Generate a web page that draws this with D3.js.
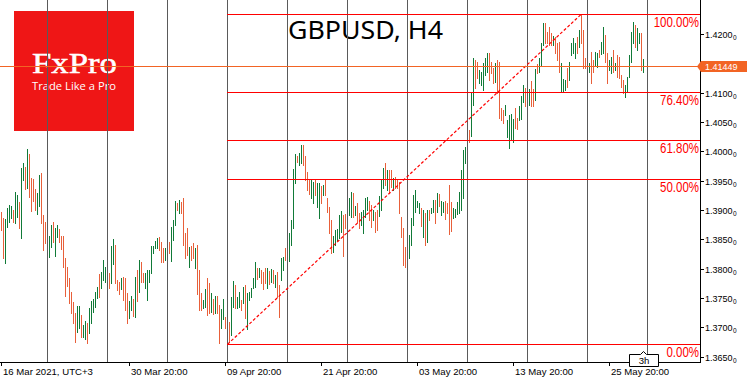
<!DOCTYPE html>
<html>
<head>
<meta charset="utf-8">
<script src="https://cdn.jsdelivr.net/npm/d3@7"></script>
<style>
    html, body { margin: 0; padding: 0; background: #fff; }
    svg { display: block; }
</style>
</head>
<body>
<script>
// GBPUSD H4 bar chart with a fibo retracement, MT4 style
(function(){

    //bar highs / lows, one per H4 bar from 16 Mar 04:00
    var barHigh = [
        1.3897,1.3886,1.3885,1.3903,1.3908,1.3907,1.3900,1.3931,1.3926,1.3914,
        1.3972,1.3980,1.3973,1.4004,1.3995,1.3955,1.3953,1.3936,1.3929,1.3960,
        1.3963,1.3891,1.3880,1.3869,1.3856,1.3874,1.3880,1.3869,1.3874,1.3868,
        1.3856,1.3856,1.3818,1.3803,1.3784,1.3760,1.3743,1.3724,1.3736,1.3736,
        1.3721,1.3704,1.3711,1.3707,1.3733,1.3745,1.3748,1.3760,1.3769,1.3791,
        1.3794,1.3815,1.3803,1.3801,1.3793,1.3839,1.3851,1.3840,1.3781,1.3777,
        1.3784,1.3786,1.3784,1.3759,1.3745,1.3753,1.3748,1.3786,1.3798,1.3815,
        1.3811,1.3793,1.3793,1.3798,1.3798,1.3839,1.3839,1.3847,1.3852,1.3854,
        1.3845,1.3835,1.3835,1.3840,1.3845,1.3871,1.3883,1.3915,1.3912,1.3917,
        1.3914,1.3920,1.3861,1.3869,1.3837,1.3839,1.3844,1.3835,1.3840,1.3798,
        1.3759,1.3747,1.3765,1.3784,1.3775,1.3759,1.3748,1.3753,1.3753,1.3738,
        1.3731,1.3748,1.3718,1.3709,1.3709,1.3752,1.3779,1.3772,1.3752,1.3760,
        1.3747,1.3769,1.3772,1.3759,1.3760,1.3767,1.3784,1.3811,1.3801,1.3801,
        1.3798,1.3794,1.3801,1.3801,1.3796,1.3799,1.3798,1.3789,1.3794,1.3772,
        1.3818,1.3820,1.3835,1.3852,1.3861,1.3883,1.3970,1.3995,1.3992,1.3997,
        1.4011,1.4011,1.3992,1.3965,1.3951,1.3951,1.3948,1.3951,1.3946,1.3946,
        1.3941,1.3943,1.3951,1.3920,1.3905,1.3883,1.3856,1.3866,1.3868,1.3891,
        1.3898,1.3891,1.3893,1.3908,1.3920,1.3931,1.3929,1.3907,1.3912,1.3895,
        1.3897,1.3900,1.3920,1.3922,1.3915,1.3908,1.3900,1.3897,1.3900,1.3924,
        1.3951,1.3972,1.3980,1.3968,1.3968,1.3968,1.3955,1.3956,1.3951,1.3948,
        1.3888,1.3869,1.3837,1.3837,1.3857,1.3886,1.3926,1.3934,1.3915,1.3912,
        1.3903,1.3900,1.3895,1.3900,1.3900,1.3903,1.3917,1.3917,1.3929,1.3927,
        1.3915,1.3914,1.3915,1.3912,1.3943,1.3914,1.3903,1.3902,1.3914,1.3931,
        1.3968,1.4002,1.4007,1.4028,1.4036,1.4099,1.4159,1.4156,1.4152,1.4139,
        1.4135,1.4151,1.4159,1.4168,1.4168,1.4152,1.4142,1.4151,1.4156,1.4152,
        1.4074,1.4070,1.4079,1.4053,1.4062,1.4064,1.4055,1.4074,1.4057,1.4077,
        1.4094,1.4113,1.4108,1.4108,1.4106,1.4120,1.4106,1.4140,1.4149,1.4159,
        1.4185,1.4219,1.4219,1.4203,1.4212,1.4202,1.4196,1.4195,1.4185,1.4186,
        1.4151,1.4123,1.4122,1.4142,1.4152,1.4185,1.4193,1.4185,1.4195,1.4207,
        1.4234,1.4207,1.4159,1.4156,1.4151,1.4169,1.4156,1.4169,1.4168,1.4173,
        1.4186,1.4212,1.4198,1.4168,1.4156,1.4161,1.4173,1.4151,1.4164,1.4161,
        1.4130,1.4122,1.4113,1.4127,1.4164,1.4203,1.4220,1.4215,1.4210,1.4202,
        1.4202,1.4157
    ];

    var barLow = [
        1.3866,1.3818,1.3810,1.3871,1.3880,1.3886,1.3880,1.3878,1.3888,1.3869,
        1.3852,1.3951,1.3936,1.3937,1.3922,1.3898,1.3915,1.3900,1.3893,1.3907,
        1.3878,1.3832,1.3844,1.3832,1.3820,1.3837,1.3845,1.3822,1.3854,1.3845,
        1.3833,1.3803,1.3753,1.3770,1.3741,1.3724,1.3707,1.3675,1.3692,1.3699,
        1.3684,1.3684,1.3680,1.3673,1.3690,1.3707,1.3726,1.3735,1.3750,1.3752,
        1.3767,1.3781,1.3777,1.3772,1.3767,1.3775,1.3808,1.3775,1.3764,1.3757,
        1.3765,1.3747,1.3729,1.3707,1.3716,1.3729,1.3719,1.3718,1.3745,1.3760,
        1.3777,1.3777,1.3767,1.3747,1.3777,1.3793,1.3827,1.3835,1.3835,1.3832,
        1.3811,1.3811,1.3815,1.3818,1.3827,1.3813,1.3849,1.3874,1.3900,1.3895,
        1.3895,1.3840,1.3818,1.3823,1.3803,1.3815,1.3818,1.3801,1.3757,1.3729,
        1.3729,1.3733,1.3735,1.3721,1.3724,1.3726,1.3723,1.3724,1.3724,1.3673,
        1.3699,1.3714,1.3699,1.3671,1.3675,1.3687,1.3735,1.3733,1.3733,1.3735,
        1.3729,1.3741,1.3716,1.3697,1.3747,1.3752,1.3767,1.3769,1.3782,1.3786,
        1.3775,1.3765,1.3775,1.3767,1.3774,1.3777,1.3775,1.3769,1.3752,1.3718,
        1.3781,1.3798,1.3815,1.3818,1.3813,1.3840,1.3869,1.3946,1.3982,1.3977,
        1.3980,1.3977,1.3951,1.3934,1.3927,1.3920,1.3912,1.3926,1.3905,1.3886,
        1.3912,1.3926,1.3926,1.3897,1.3861,1.3827,1.3828,1.3840,1.3849,1.3852,
        1.3862,1.3822,1.3869,1.3880,1.3891,1.3888,1.3888,1.3891,1.3880,1.3869,
        1.3874,1.3861,1.3888,1.3900,1.3883,1.3871,1.3883,1.3862,1.3866,1.3890,
        1.3900,1.3937,1.3943,1.3934,1.3931,1.3939,1.3934,1.3937,1.3937,1.3895,
        1.3854,1.3806,1.3803,1.3803,1.3818,1.3840,1.3874,1.3897,1.3905,1.3895,
        1.3873,1.3854,1.3840,1.3845,1.3883,1.3895,1.3897,1.3878,1.3897,1.3907,
        1.3891,1.3897,1.3885,1.3895,1.3859,1.3864,1.3886,1.3888,1.3893,1.3895,
        1.3900,1.3920,1.3980,1.4002,1.4016,1.4026,1.4079,1.4108,1.4125,1.4116,
        1.4113,1.4104,1.4130,1.4135,1.4122,1.4134,1.4116,1.4118,1.4099,1.4057,
        1.4053,1.4048,1.4062,1.4024,1.4006,1.4019,1.4016,1.4040,1.4038,1.4053,
        1.4055,1.4084,1.4077,1.4087,1.4079,1.4077,1.4077,1.4087,1.4134,1.4135,
        1.4147,1.4181,1.4185,1.4185,1.4181,1.4181,1.4181,1.4168,1.4156,1.4135,
        1.4101,1.4103,1.4104,1.4110,1.4122,1.4164,1.4168,1.4159,1.4168,1.4178,
        1.4185,1.4142,1.4142,1.4139,1.4135,1.4116,1.4135,1.4145,1.4144,1.4161,
        1.4166,1.4168,1.4152,1.4116,1.4139,1.4134,1.4135,1.4139,1.4127,1.4125,
        1.4110,1.4099,1.4093,1.4101,1.4127,1.4152,1.4185,1.4178,1.4173,1.4185,
        1.4139,1.4135
    ];

    //g = bull bar, r = bear bar
    var barDir = ("rrggggrggr" + "ggrgrrrrgg" + "rrrrggrggr" + "rrrrrrrrgg" + "rggrgggggr" +
        "ggggrggrrr" + "grrrggrgrg" + "rrgggggggr" + "rrggrgggrg" + "rrrrgrrgrr" +
        "rggrrgrgrr" + "ggrrrggrgg" + "rgrgggggrg" + "rrrgrgrgrr" + "ggrgggggrg" +
        "grrrrggrgg" + "rgrrrrgggg" + "grrgggrgrr" + "ggggrrgrrg" + "ggrgrrgrrr" +
        "rrrggggggg" + "rgrgrggrgr" + "ggrrrrgggg" + "ggggrggrrg" + "ggggrrrgrr" +
        "rrgggggrrg" + "ggrggrrgrg" + "ggrrrrgrrr" + "gggrggggrg" + "rrrrgrrggr" +
        "ggrrggrgrr" + "rrgggggrgg" + "rg").split("");

    var timeTickTimes = ["2021-03-16 04:00", "2021-03-30 20:00", "2021-04-09 20:00", "2021-04-21 20:00",
        "2021-05-03 20:00", "2021-05-13 20:00", "2021-05-25 20:00"];
    var timeTickLabels = ["16 Mar 2021, UTC+3", "30 Mar 20:00", "09 Apr 20:00", "21 Apr 20:00",
        "03 May 20:00", "13 May 20:00", "25 May 20:00"];

    var priceTicks = [1.3650, 1.3700, 1.3750, 1.3800, 1.3850, 1.3900, 1.3950,
        1.4000, 1.4050, 1.4100, 1.4150, 1.4200];

    var fibRatios = [0, 0.5, 0.618, 0.764, 1];
    var fibLabels = ["0.00%", "50.00%", "61.80%", "76.40%", "100.00%"];

    var lastPrice = 1.41449;
    var chartTitle = "GBPUSD, H4";
    var barTimeLeft = "3h";

    //frame
    var width = 747,
        height = 379,
        plotRight = 701,
        plotBottom = 362,
        slots = 350;

    var upColour = "#117a38",
        downColour = "#e8603a",
        gridColour = "#5a5a5a",
        fibColour = "#ff0000",
        priceColour = "#f26424";

    var xScale = d3.scaleLinear()
        .domain([-0.5, slots - 0.5])
        .range([0, slots * 2]);

    var yScale = d3.scaleLinear()
        .domain([1.36409, 1.42579])
        .range([plotBottom, 0]);

    //H4 bar times, weekdays only
    var fmt = d3.timeFormat("%Y-%m-%d %H:%M");
    var barTimes = [];
    var t = new Date(2021, 2, 16, 4);
    while (barTimes.length < slots){
        if (t.getDay() !== 0 && t.getDay() !== 6) barTimes.push(new Date(t));
        t = d3.timeHour.offset(t, 4);
    }
    var timeKeys = barTimes.map(fmt);
    var gridIdx = [];
    barTimes.forEach(function(d, i){
        if (d.getDay() === 1 && d.getHours() === 0 && xScale(i) < plotRight) gridIdx.push(i);
    });

    var svg = d3.select("body").append("svg")
        .attr("width", width)
        .attr("height", height)
        .style("font-family", "'Liberation Sans', Arial, sans-serif");

    svg.append("rect").attr("width", width).attr("height", height).attr("fill", "#fff");

    //logo
    var logo = svg.append("g");
    logo.append("rect")
        .attr("x", 14).attr("y", 11)
        .attr("width", 120).attr("height", 120)
        .attr("fill", "#ef1616");
    logo.append("text")
        .attr("x", 32).attr("y", 73)
        .attr("font-family", "'Liberation Serif', 'DejaVu Serif', serif")
        .attr("font-size", 30)
        .attr("stroke", "#fff")
        .attr("stroke-width", 0.5)
        .attr("textLength", 85)
        .attr("lengthAdjust", "spacingAndGlyphs")
        .attr("fill", "#fff")
        .text("FxPro");
    logo.append("text")
        .attr("x", 32).attr("y", 89.5)
        .attr("font-family", "'Open Sans', sans-serif")
        .attr("font-size", 10)
        .attr("textLength", 84)
        .attr("lengthAdjust", "spacingAndGlyphs")
        .attr("fill", "#fff")
        .text("Trade Like a Pro");

    //title
    svg.append("text")
        .attr("x", 288).attr("y", 39)
        .attr("font-family", "'Noto Sans', sans-serif")
        .attr("font-size", 26)
        .attr("textLength", 155)
        .attr("lengthAdjust", "spacingAndGlyphs")
        .attr("fill", "#000")
        .text(chartTitle);

    //bars
    svg.append("g")
        .attr("shape-rendering", "crispEdges")
        .selectAll("rect")
        .data(barHigh)
        .join("rect")
        .attr("x", function(d, i){ return xScale(i); })
        .attr("y", function(d){ return Math.round(yScale(d)); })
        .attr("width", 1)
        .attr("height", function(d, i){
            return Math.max(1, Math.round(yScale(barLow[i])) - Math.round(yScale(d)) + 1);
        })
        .attr("fill", function(d, i){ return barDir[i] === "g" ? upColour : downColour; });

    //week grid
    svg.append("g")
        .selectAll("line")
        .data(gridIdx)
        .join("line")
        .attr("x1", function(d){ return xScale(d) + 0.5; })
        .attr("x2", function(d){ return xScale(d) + 0.5; })
        .attr("y1", 0)
        .attr("y2", plotBottom)
        .attr("stroke", gridColour)
        .attr("stroke-width", 1);

    //fibo retracement
    var iLow = d3.minIndex(barLow),
        iHigh = d3.maxIndex(barHigh),
        fibLow = barLow[iLow],
        fibHigh = barHigh[iHigh];

    var fib = svg.append("g");
    fib.selectAll("line")
        .data(fibRatios)
        .join("line")
        .attr("x1", xScale(iLow))
        .attr("x2", plotRight)
        .attr("y1", function(d){ return Math.round(yScale(fibLow + d * (fibHigh - fibLow))) + 0.5; })
        .attr("y2", function(d){ return Math.round(yScale(fibLow + d * (fibHigh - fibLow))) + 0.5; })
        .attr("stroke", fibColour)
        .attr("stroke-width", 1);

    fib.selectAll("text")
        .data(fibRatios)
        .join("text")
        .attr("x", plotRight - 2)
        .attr("y", function(d){ return Math.round(yScale(fibLow + d * (fibHigh - fibLow))) + 12.5; })
        .attr("text-anchor", "end")
        .attr("font-size", 14)
        .attr("fill", fibColour)
        .text(function(d, i){ return fibLabels[i]; })
        .each(function(){
            var w = this.getComputedTextLength();
            d3.select(this).attr("textLength", w * 0.82).attr("lengthAdjust", "spacingAndGlyphs");
        });

    fib.append("line")
        .attr("x1", xScale(iLow) + 0.5)
        .attr("y1", yScale(fibLow))
        .attr("x2", xScale(iHigh) + 0.5)
        .attr("y2", yScale(fibHigh))
        .attr("stroke", fibColour)
        .attr("stroke-width", 1.2)
        .attr("stroke-dasharray", "3,2");

    //last price line
    var yLast = Math.round(yScale(lastPrice)) + 0.5;
    svg.append("line")
        .attr("x1", 0).attr("x2", plotRight)
        .attr("y1", yLast).attr("y2", yLast)
        .attr("stroke", priceColour)
        .attr("stroke-width", 1);

    //axes frame
    svg.append("line")
        .attr("x1", plotRight - 0.5).attr("x2", plotRight - 0.5)
        .attr("y1", 0).attr("y2", plotBottom + 1)
        .attr("stroke", "#000");
    svg.append("line")
        .attr("x1", 0).attr("x2", plotRight)
        .attr("y1", plotBottom + 0.5).attr("y2", plotBottom + 0.5)
        .attr("stroke", "#000");

    //price axis, labels hidden where the last price tag sits
    var shownTicks = priceTicks.filter(function(d){
        return Math.abs(yScale(d) - yScale(lastPrice)) > 9;
    });
    var pAxis = svg.append("g").selectAll("g")
        .data(shownTicks)
        .join("g")
        .attr("transform", function(d){ return "translate(0," + Math.round(yScale(d)) + ")"; });
    pAxis.append("line")
        .attr("x1", plotRight).attr("x2", plotRight + 3)
        .attr("y1", 0.5).attr("y2", 0.5)
        .attr("stroke", "#000");
    var pText = pAxis.append("text")
        .attr("x", plotRight + 4)
        .attr("y", 4)
        .attr("font-size", 9)
        .attr("fill", "#000");
    pText.append("tspan").text(function(d){ return d3.format(".4f")(d); });
    pText.append("tspan").attr("font-size", 6.5).attr("dy", 1.5).attr("dx", 0.5).text("0");

    //last price tag
    svg.append("path")
        .attr("d", "M697," + yLast + "L701," + (yLast - 5.5) + "H747V" + (yLast + 5.5) + "H701Z")
        .attr("fill", priceColour);
    svg.append("text")
        .attr("x", 705).attr("y", yLast + 3.5)
        .attr("font-size", 9)
        .attr("fill", "#fff")
        .text(d3.format(".5f")(lastPrice));

    //time axis
    var tIdx = timeTickTimes.map(function(k){ return timeKeys.indexOf(k); });
    var tAxis = svg.append("g").selectAll("g")
        .data(tIdx)
        .join("g")
        .attr("transform", function(d){ return "translate(" + xScale(d) + ",0)"; });
    tAxis.append("line")
        .attr("x1", 0.5).attr("x2", 0.5)
        .attr("y1", plotBottom).attr("y2", plotBottom + 4)
        .attr("stroke", "#000");
    tAxis.append("text")
        .attr("x", 2)
        .attr("y", 375)
        .attr("font-size", 9.6)
        .attr("fill", "#000")
        .text(function(d, i){ return timeTickLabels[i]; });

    //time left in the current bar
    var xl = xScale(barHigh.length - 1) + 0.5;
    svg.append("path")
        .attr("d", "M629.5,354.5H" + (xl - 3) + "L" + xl + ",351.5L" + (xl + 3) + ",354.5H658.5V366.5H629.5Z")
        .attr("fill", "#fff")
        .attr("stroke", "#000");
    svg.append("text")
        .attr("x", 644).attr("y", 364)
        .attr("text-anchor", "middle")
        .attr("font-size", 9.6)
        .attr("fill", "#000")
        .text(barTimeLeft);

})();
</script>
</body>
</html>
